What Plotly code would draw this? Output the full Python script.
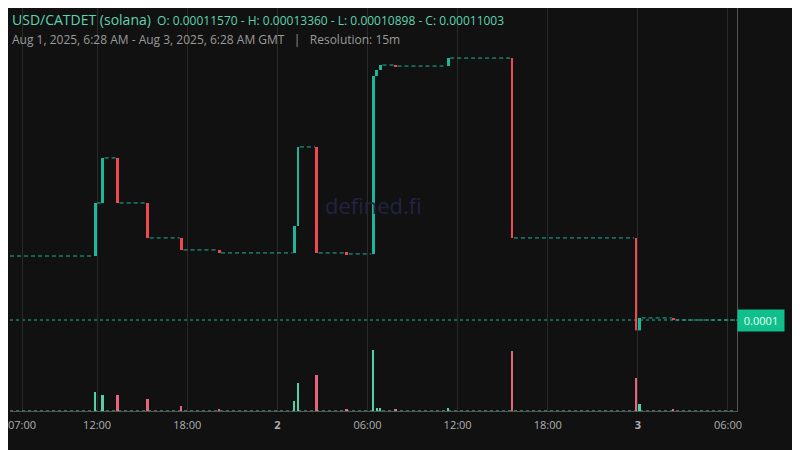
import plotly.graph_objects as go
import pandas as pd

times = ["2025-08-01 11:45","2025-08-01 12:15","2025-08-01 13:15","2025-08-01 15:15","2025-08-01 17:30",
         "2025-08-01 20:00","2025-08-02 01:00","2025-08-02 01:15","2025-08-02 02:30","2025-08-02 04:30",
         "2025-08-02 06:15","2025-08-02 06:30","2025-08-02 06:45","2025-08-02 07:45","2025-08-02 11:15",
         "2025-08-02 15:30","2025-08-02 23:45","2025-08-03 00:00","2025-08-03 02:15"]
opens  = [0.00011563,0.00012027,0.00012421,0.00012027,0.00011721,0.00011616,0.00011590,0.00011826,0.00012517,0.00011590,
          0.00011581,0.00013138,0.00013190,0.00013234,0.00013225,0.00013295,0.00011721,0.00010898,0.00011021]
closes = [0.00012027,0.00012421,0.00012027,0.00011721,0.00011616,0.00011590,0.00011826,0.00012517,0.00011590,0.00011581,
          0.00013138,0.00013190,0.00013234,0.00013225,0.00013295,0.00011721,0.00010898,0.00011021,0.00011003]
volumes = [18000,15000,15000,12000,5000,1000,10000,27000,35000,1000,60000,3000,3000,2000,3000,59000,32000,7000,1000]
view_start = "2025-08-01 06:12"
view_end = "2025-08-03 06:36"
end_time = "2025-08-03 06:28"
last_price = 0.00011003
tick_vals = ["2025-08-01 07:00","2025-08-01 12:00","2025-08-01 18:00","2025-08-02 00:00","2025-08-02 06:00",
             "2025-08-02 12:00","2025-08-02 18:00","2025-08-03 00:00","2025-08-03 06:00"]
tick_text = ["07:00","12:00","18:00","<b>2</b>","06:00","12:00","18:00","<b>3</b>","06:00"]

UP, DN = "#1fb598", "#f0484f"
UPV, DNV = "#52d0a8", "#e8647c"
t = pd.to_datetime(times)
q = pd.Timedelta(minutes=15)
cols = [UP if c >= o else DN for o, c in zip(opens, closes)]
vcols = [UPV if c >= o else DNV for o, c in zip(opens, closes)]
mid = t + pd.Timedelta(minutes=7.5)
w = 15 * 60 * 1000 * 0.75

seg_starts = [pd.Timestamp(view_start)] + list(t + q)
seg_ends = list(t) + [pd.Timestamp(end_time)]
seg_levels = [opens[0]] + closes
sx, sy = [], []
for a, b, lv in zip(seg_starts, seg_ends, seg_levels):
    if b > a:
        sx += [a, b, None]
        sy += [lv, lv, None]

fig = go.Figure()
fig.add_trace(go.Scatter(x=sx, y=sy, mode="lines", line=dict(color=UP, width=1, dash="4px,3px"),
                         hoverinfo="skip", connectgaps=False))
fig.add_trace(go.Bar(x=mid, base=opens, y=[max(abs(c - o), 1.5e-7) * (1 if c >= o else -1) for o, c in zip(opens, closes)],
                     width=w, marker=dict(color=cols, line=dict(width=0))))
fig.add_trace(go.Bar(x=mid, y=volumes, width=w * 0.6, marker=dict(color=vcols, line=dict(width=0)), yaxis="y2"))
fig.add_trace(go.Scatter(x=[pd.Timestamp(view_start), pd.Timestamp(end_time)], y=[0, 0], yaxis="y2", mode="lines",
                         line=dict(color=UPV, width=1, dash="dot"), hoverinfo="skip"))

ppx = 8.75e-8
L, R, T, B = 2, 71, 0, 47
fig.update_layout(
    width=800, height=450, showlegend=False, bargap=0,
    paper_bgcolor="#111111", plot_bgcolor="#111111",
    margin=dict(l=L, r=R, t=T, b=B),
    xaxis=dict(range=[view_start, view_end], tickvals=tick_vals, ticktext=tick_text, ticklabeloverflow="allow",
               showgrid=True, gridcolor="#2a2a2a", gridwidth=1, tickfont=dict(color="#b0b0b0", size=11, family="Open Sans"),
               showline=True, linecolor="#555", zeroline=False, ticks="outside", ticklen=4, tickcolor="rgba(0,0,0,0)"),
    yaxis=dict(range=[last_price - 91 * ppx, last_price + 312 * ppx], showgrid=False, showticklabels=False,
               zeroline=False, showline=True, side="right", linecolor="#555"),
    yaxis2=dict(domain=[0, 0.2], range=[0, 80000], anchor="x", showgrid=False,
                showticklabels=False, zeroline=False),
    shapes=[dict(type="line", xref="paper", x0=0, x1=1, yref="y", y0=last_price, y1=last_price,
                 line=dict(color=UP, width=1, dash="dot"), layer="below")],
)
H = 450 - T - B
fig.add_annotation(text="defined.fi", x=0.5, y=(450 - B - (205 - 8)) / H, xref="paper", yref="paper", showarrow=False,
                   font=dict(size=22, color="#232340", family="Open Sans"))
fig.add_annotation(text="0.0001", xref="paper", x=1.0, xanchor="left", yref="y", y=last_price,
                   showarrow=False, bgcolor="#0fbf8c", font=dict(color="#eafff6", size=11, family="Open Sans"),
                   borderpad=3, width=40)
fig.add_annotation(text="<span style='font-size:14px'>USD/CATDET (solana)</span>  O: 0.00011570 - H: 0.00013360 - L: 0.00010898 - C: 0.00011003",
                   xref="paper", yref="paper", x=0, y=(450 - B - 11) / H, xanchor="left", yanchor="middle",
                   showarrow=False, font=dict(color="#5fd3b0", size=12, family="Open Sans"))
fig.add_annotation(text="Aug 1, 2025, 6:28 AM - Aug 3, 2025, 6:28 AM GMT   |   Resolution: 15m",
                   xref="paper", yref="paper", x=0, y=(450 - B - 32) / H, xanchor="left", yanchor="middle",
                   showarrow=False, font=dict(color="#9a9a9a", size=12, family="Open Sans"))
fig.write_html("out.html")
